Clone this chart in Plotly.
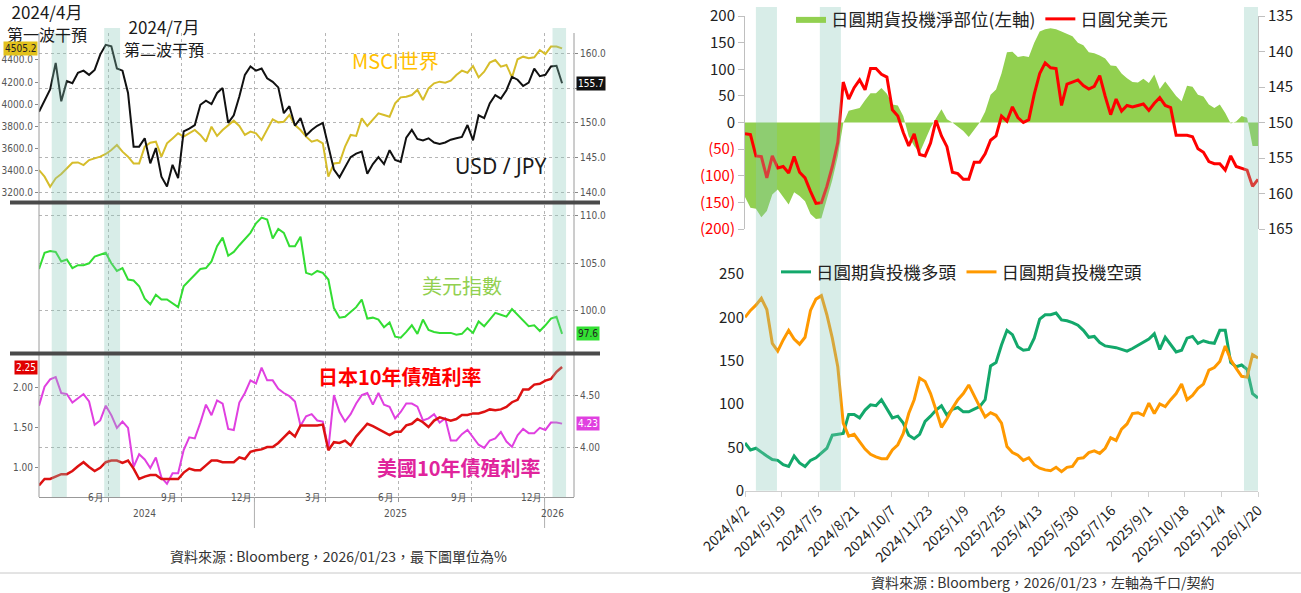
import pandas as pd
import plotly.graph_objects as go

W, H = 1301, 593


def px(x):
    return x / W


def py(y):
    return 1 - y / H


NARROW = "Liberation Sans Narrow, DejaVu Sans Condensed, Arial Narrow, sans-serif"
CJK = "Noto Sans CJK TC, Noto Sans CJK SC, sans-serif"

# ---- left panel (Bloomberg, weekly Fridays) ----
left_dates = pd.date_range("2024-04-05", periods=95, freq="7D")

msci_world = [3405, 3345, 3254, 3330, 3369, 3420, 3471, 3474, 3450, 3495,
              3511, 3526, 3550, 3586, 3631, 3571, 3526, 3465, 3465, 3616,
              3652, 3661, 3526, 3646, 3691, 3737, 3707, 3737, 3767, 3722,
              3661, 3797, 3713, 3767, 3812, 3851, 3803, 3722, 3752, 3737,
              3676, 3767, 3863, 3836, 3842, 3903, 3812, 3767, 3707, 3661,
              3676, 3646, 3345, 3465, 3471, 3616, 3722, 3713, 3872, 3803,
              3863, 3918, 3903, 3887, 4008, 4062, 4068, 4083, 4129, 4038,
              4144, 4189, 4204, 4195, 4213, 4264, 4304, 4285, 4346, 4243,
              4294, 4376, 4400, 4340, 4355, 4243, 4406, 4430, 4415, 4424,
              4490, 4454, 4521, 4521, 4505.2]

usd_jpy = [151.6, 153.3, 154.8, 158.6, 153.1, 156.0, 155.7, 157.2, 157.5, 156.9,
           157.6, 159.8, 161.2, 161.0, 157.8, 157.5, 154.3, 146.6, 146.6, 147.8,
           144.2, 146.4, 142.3, 140.9, 144.0, 142.1, 148.8, 149.2, 149.7, 152.6,
           153.2, 152.7, 154.3, 155.0, 150.0, 151.1, 153.8, 156.9, 158.1, 157.5,
           157.8, 156.4, 155.9, 155.1, 151.4, 152.4, 149.6, 150.7, 148.2, 149.0,
           149.6, 150.0, 146.6, 143.3, 142.2, 143.7, 145.1, 145.6, 145.9, 142.7,
           144.1, 145.1, 144.1, 146.1, 144.7, 144.4, 147.9, 149.0, 147.7, 147.5,
           147.8, 147.2, 147.0, 147.2, 147.6, 147.8, 148.0, 149.7, 147.5, 151.1,
           150.7, 152.8, 154.0, 153.5, 154.7, 156.6, 156.2, 155.3, 155.8, 157.8,
           156.7, 156.9, 158.1, 158.2, 155.7]

dollar_index = [104.4, 106.1, 106.3, 106.2, 105.2, 105.4, 104.5, 104.8, 104.8, 105.0,
                105.7, 105.9, 106.1, 105.0, 104.2, 104.5, 103.3, 103.2, 102.6, 101.3,
                100.7, 101.7, 101.2, 101.2, 100.8, 100.4, 102.6, 103.2, 103.8, 104.4,
                104.5, 105.2, 106.8, 107.7, 105.8, 106.2, 106.9, 107.6, 108.2, 109.2,
                109.8, 109.6, 107.6, 108.6, 108.2, 106.8, 106.8, 107.8, 104.0, 103.8,
                104.2, 104.0, 103.3, 100.3, 99.3, 99.4, 99.9, 100.4, 101.2, 99.2,
                99.3, 99.1, 98.3, 98.8, 97.3, 97.2, 97.8, 98.5, 97.6, 99.1,
                98.0, 97.8, 97.7, 97.7, 97.7, 97.5, 97.6, 98.2, 97.7, 98.9,
                98.4, 99.1, 99.8, 99.6, 99.4, 100.2, 99.6, 99.0, 98.4, 98.5,
                97.9, 98.5, 99.2, 99.4, 97.6]

jgb_10y = [0.77, 0.85, 0.85, 0.88, 0.91, 0.91, 0.95, 1.01, 1.06, 1.00,
           0.95, 0.99, 1.06, 1.08, 1.08, 1.05, 1.08, 0.98, 0.85, 0.88,
           0.90, 0.90, 0.85, 0.85, 0.85, 0.85, 0.93, 0.98, 0.96, 0.96,
           1.02, 1.08, 1.08, 1.06, 1.06, 1.06, 1.12, 1.10, 1.19, 1.21,
           1.22, 1.25, 1.25, 1.30, 1.37, 1.44, 1.38, 1.52, 1.52, 1.52,
           1.52, 1.53, 1.21, 1.31, 1.30, 1.33, 1.27, 1.38, 1.46, 1.54,
           1.51, 1.47, 1.44, 1.40, 1.44, 1.44, 1.52, 1.54, 1.60, 1.56,
           1.50, 1.58, 1.62, 1.60, 1.58, 1.60, 1.65, 1.65, 1.67, 1.67,
           1.69, 1.72, 1.71, 1.72, 1.75, 1.81, 1.84, 1.97, 1.97, 2.03,
           2.04, 2.08, 2.10, 2.19, 2.25]

ust_10y = [4.40, 4.58, 4.65, 4.67, 4.52, 4.51, 4.43, 4.47, 4.51, 4.44,
           4.22, 4.26, 4.40, 4.31, 4.19, 4.25, 4.19, 3.82, 3.94, 3.89,
           3.81, 3.91, 3.72, 3.66, 3.76, 3.76, 3.98, 4.10, 4.09, 4.24,
           4.41, 4.31, 4.45, 4.42, 4.18, 4.17, 4.43, 4.52, 4.64, 4.61,
           4.76, 4.64, 4.64, 4.56, 4.52, 4.49, 4.44, 4.21, 4.30, 4.32,
           4.26, 4.25, 3.99, 4.50, 4.34, 4.25, 4.32, 4.42, 4.50, 4.52,
           4.41, 4.52, 4.41, 4.39, 4.28, 4.34, 4.42, 4.42, 4.39, 4.26,
           4.28, 4.32, 4.24, 4.28, 4.07, 4.07, 4.13, 4.17, 4.10, 4.03,
           4.00, 4.07, 4.09, 4.15, 4.06, 4.01, 4.12, 4.18, 4.14, 4.14,
           4.19, 4.17, 4.24, 4.24, 4.23]

quarter_lines = ["2024-07-01", "2024-10-01", "2025-01-01", "2025-04-01",
                 "2025-07-01", "2025-10-01", "2026-01-01"]
month_labels = ["6月", "9月", "12月", "3月", "6月", "9月", "12月"]
month_label_dates = ["2024-06-16", "2024-09-15", "2024-12-16", "2025-03-16",
                     "2025-06-16", "2025-09-15", "2025-12-16"]
year_labels = ["2024", "2025", "2026"]
year_label_dates = ["2024-08-16", "2025-06-27", "2026-01-11"]
year_breaks = ["2025-01-01", "2026-01-01"]
usdjpy_ticks = [140, 145, 150, 155, 160]
usdjpy_tick_text = ["140.0", "145.0", "150.0", "", "160.0"]  # 155 hidden by last-value tag

# ---- right panel (CFTC yen futures, weekly Tuesdays) ----
right_dates = pd.date_range("2024-04-02", periods=95, freq="7D")

jpy_net = [-140, -160, -162, -178, -166, -135, -126, -141, -154, -131,
           -138, -148, -172, -181, -180, -144, -108, -64, -2, 22,
           24, 27, 42, 55, 55, 65, 54, 34, 32, 12,
           -26, -44, -57, -35, -10, 8, 25, 6, 0, -8,
           -16, -27, -13, 0, 20, 52, 62, 92, 132, 133,
           123, 125, 123, 150, 171, 175, 177, 175, 171, 166,
           162, 150, 145, 132, 130, 126, 120, 107, 106, 92,
           83, 76, 75, 82, 74, 90, 63, 77, 64, 50,
           40, 69, 67, 52, 49, 34, 27, 34, 18, -2,
           2, 12, 9, -44, -44]

jpy_usd = [151.6, 151.7, 154.7, 154.8, 157.8, 154.7, 156.4, 156.2, 157.1, 154.8,
           157.0, 157.8, 159.7, 161.4, 161.3, 159.0, 156.2, 152.8, 144.3, 146.7,
           145.1, 144.0, 145.4, 142.4, 142.4, 143.2, 143.6, 148.2, 149.1, 151.4,
           153.3, 151.6, 154.5, 154.7, 152.9, 149.7, 151.9, 153.4, 157.0, 157.2,
           158.0, 158.0, 155.6, 155.6, 154.4, 152.5, 151.9, 149.1, 149.8, 147.8,
           149.3, 150.0, 149.6, 146.0, 143.1, 141.6, 142.3, 142.4, 147.6, 144.6,
           144.3, 144.0, 144.8, 145.3, 144.9, 143.4, 146.3, 148.9, 146.7, 148.4,
           147.6, 147.8, 147.6, 147.4, 148.3, 147.3, 146.5, 147.6, 147.9, 151.8,
           151.8, 151.8, 152.0, 153.7, 154.2, 155.5, 155.8, 155.8, 156.7, 154.7,
           156.2, 156.4, 156.7, 159.0, 158.0]

jpy_long = [55, 47, 49, 44, 40, 36, 35, 30, 28, 40,
            32, 28, 35, 38, 43, 49, 64, 65, 66, 88,
            88, 84, 93, 99, 98, 105, 95, 84, 86, 78,
            64, 60, 65, 80, 86, 93, 98, 87, 94, 96,
            91, 91, 94, 97, 105, 144, 148, 168, 185, 180,
            166, 162, 163, 176, 198, 203, 203, 205, 197, 196,
            194, 191, 185, 177, 178, 171, 167, 166, 165, 163,
            161, 164, 168, 171, 175, 181, 163, 177, 169, 160,
            162, 176, 178, 170, 173, 171, 170, 185, 185, 148,
            143, 145, 140, 112, 107]

jpy_short = [200, 208, 214, 222, 209, 170, 161, 174, 185, 175,
             169, 177, 208, 221, 225, 203, 176, 143, 78, 63,
             65, 57, 48, 42, 39, 37, 37, 47, 53, 66,
             89, 105, 130, 126, 112, 93, 73, 83, 95, 105,
             112, 122, 109, 97, 85, 90, 87, 78, 51, 44,
             41, 35, 38, 30, 26, 24, 23, 27, 22, 27,
             28, 37, 38, 44, 46, 43, 49, 61, 58, 71,
             77, 89, 90, 87, 101, 89, 100, 97, 105, 112,
             123, 105, 110, 118, 123, 139, 142, 149, 167, 151,
             141, 132, 131, 157, 153]

right_tick_dates = ["2024-04-02", "2024-05-19", "2024-07-05", "2024-08-21", "2024-10-07",
                    "2024-11-23", "2025-01-09", "2025-02-25", "2025-04-13", "2025-05-30",
                    "2025-07-16", "2025-09-01", "2025-10-18", "2025-12-04", "2026-01-20"]
right_tick_text = ["2024/4/2", "2024/5/19", "2024/7/5", "2024/8/21", "2024/10/7",
                   "2024/11/23", "2025/1/9", "2025/2/25", "2025/4/13", "2025/5/30",
                   "2025/7/16", "2025/9/1", "2025/10/18", "2025/12/4", "2026/1/20"]
net_ticks = [-200, -150, -100, -50, 0, 50, 100, 150, 200]
net_tick_text = ["(200)", "(150)", "(100)", "(50)", "0", "50", "100", "150", "200"]

# intervention periods (shaded)
left_bands = [("2024-04-21", "2024-05-10", 33), ("2024-06-26", "2024-07-16", 28),
              ("2026-01-11", "2026-01-28", 28)]
right_bands = [("2024-04-16", "2024-05-13"), ("2024-07-07", "2024-08-03"),
               ("2026-01-02", "2026-01-20")]

fig = go.Figure()

# left panel traces
fig.add_trace(go.Scatter(x=left_dates, y=msci_world, xaxis="x", yaxis="y",
                         line=dict(color="#d6bd2a", width=2), showlegend=False))
fig.add_trace(go.Scatter(x=left_dates, y=usd_jpy, xaxis="x", yaxis="y2",
                         line=dict(color="#111111", width=2), showlegend=False))
fig.add_trace(go.Scatter(x=left_dates, y=dollar_index, xaxis="x2", yaxis="y3",
                         line=dict(color="#33dd33", width=2), showlegend=False))
fig.add_trace(go.Scatter(x=left_dates, y=ust_10y, xaxis="x3", yaxis="y4",
                         line=dict(color="#e040e0", width=2), showlegend=False))
fig.add_trace(go.Scatter(x=left_dates, y=jgb_10y, xaxis="x3", yaxis="y5",
                         line=dict(color="#dd1111", width=2.5), showlegend=False))

# right panel traces
fig.add_trace(go.Scatter(x=right_dates, y=jpy_net, xaxis="x4", yaxis="y6",
                         mode="lines", fill="tozeroy", fillcolor="#92D050",
                         line=dict(width=0, color="#92D050"),
                         name="日圓期貨投機淨部位(左軸)", legend="legend"))
fig.add_trace(go.Scatter(x=right_dates, y=jpy_usd, xaxis="x4", yaxis="y7",
                         mode="lines", line=dict(color="#ff0000", width=3),
                         name="日圓兌美元", legend="legend"))
fig.add_trace(go.Scatter(x=right_dates, y=jpy_long, xaxis="x5", yaxis="y8",
                         mode="lines", line=dict(color="#13a86b", width=3),
                         name="日圓期貨投機多頭", legend="legend2"))
fig.add_trace(go.Scatter(x=right_dates, y=jpy_short, xaxis="x5", yaxis="y8",
                         mode="lines", line=dict(color="#ff9900", width=3),
                         name="日圓期貨投機空頭", legend="legend2"))

left_dom = [px(39), px(574)]
left_range = ["2024-04-05", "2026-02-07"]
grid_x = dict(range=left_range, domain=left_dom, tickvals=quarter_lines,
              showticklabels=False, showgrid=True, griddash="dot",
              gridcolor="#b5b5b5", gridwidth=1, zeroline=False, automargin=False)
small = dict(family=NARROW, size=10, color="#555555")
yl = dict(showgrid=False, zeroline=False, ticks="outside", ticklen=3,
          tickcolor="#888888", tickfont=small, showline=False, automargin=False)
yr_grid = dict(showgrid=True, griddash="dot", gridcolor="#b5b5b5")

red_tick_text = [f"<span style='color:#ff0000'>{t}</span>" if v < 0 else t
                 for v, t in zip(net_ticks, net_tick_text)]
big = dict(family=CJK, size=15, color="#222222")
leg_font = dict(family=CJK, size=17.5, color="#222222")

fig.update_layout(
    template="none",
    width=W, height=H, margin=dict(l=0, r=0, t=0, b=0, pad=0, autoexpand=False),
    paper_bgcolor="white", plot_bgcolor="white",
    xaxis=dict(anchor="y", **grid_x),
    xaxis2=dict(anchor="y3", matches="x", **grid_x),
    xaxis3=dict(anchor="y4", matches="x", ticks="outside", ticklen=4,
                tickcolor="#999999", showline=True, linecolor="#999999", **grid_x),
    yaxis=dict(domain=[py(200), py(33)], anchor="x", range=[3134, 4644],
               tickvals=[3200, 3400, 3600, 3800, 4000, 4200, 4400],
               tickformat=".1f", **yl),
    yaxis2=dict(overlaying="y", side="right", anchor="x", range=[138.95, 162.9],
                tickvals=usdjpy_ticks, ticktext=usdjpy_tick_text,
                **{**yl, **yr_grid}),
    yaxis3=dict(domain=[py(351), py(205)], anchor="x2", side="right",
                range=[95.8, 111.12], tickvals=[100, 105, 110], tickformat=".1f",
                **{**yl, **yr_grid}),
    yaxis4=dict(domain=[py(497), py(355)], anchor="x3", side="right",
                range=[3.535, 4.88], tickvals=[4.0, 4.5], tickformat=".2f",
                **{**yl, **yr_grid}),
    yaxis5=dict(overlaying="y4", side="left", anchor="x3", range=[0.625, 2.40],
                tickvals=[1.0, 1.5, 2.0], tickformat=".2f", **yl),
    xaxis4=dict(anchor="y6", domain=[px(745), px(1258)],
                range=["2024-04-02", "2026-01-20"], visible=False, automargin=False),
    xaxis5=dict(anchor="y8", domain=[px(745), px(1258)],
                range=["2024-04-02", "2026-01-20"], tickvals=right_tick_dates,
                ticktext=right_tick_text, tickangle=-45, ticks="outside",
                ticklen=5, tickcolor="#d0d0d0", showline=True, linecolor="#d0d0d0",
                showgrid=False, zeroline=False, automargin=False,
                tickfont=dict(family=CJK, size=14, color="#222222")),
    yaxis6=dict(domain=[py(229), py(16)], anchor="x4", range=[-200, 200],
                tickvals=net_ticks, ticktext=red_tick_text, ticks="outside",
                ticklen=6, tickcolor="#bfbfbf", showline=True, linecolor="#bfbfbf",
                showgrid=False, zeroline=False, tickfont=big, automargin=False),
    yaxis7=dict(overlaying="y6", side="right", anchor="x4", range=[165, 135],
                tickvals=[135, 140, 145, 150, 155, 160, 165], ticks="outside",
                ticklen=6, tickcolor="#bfbfbf", showline=True, linecolor="#bfbfbf",
                showgrid=False, zeroline=False, tickfont=big, automargin=False),
    yaxis8=dict(domain=[py(490.7), py(274)], anchor="x5", range=[0, 250],
                tickvals=[0, 50, 100, 150, 200, 250], showline=False, ticks="",
                showgrid=False, zeroline=False, tickfont=big, automargin=False),
    legend=dict(orientation="h", x=px(791), y=py(19), xanchor="left",
                yanchor="middle", font=leg_font, bgcolor="rgba(0,0,0,0)", itemwidth=30),
    legend2=dict(orientation="h", x=px(776), y=py(272), xanchor="left",
                 yanchor="middle", font=leg_font, bgcolor="rgba(0,0,0,0)", itemwidth=30),
)

shapes = []
band_fill = "rgba(135,198,182,0.32)"
for x0, x1, top in left_bands:
    shapes.append(dict(type="rect", xref="x", yref="paper", x0=x0, x1=x1,
                       y0=py(497), y1=py(top), fillcolor=band_fill,
                       line=dict(width=0), layer="above"))
for x0, x1 in right_bands:
    shapes.append(dict(type="rect", xref="x4", yref="paper", x0=x0, x1=x1,
                       y0=py(490.7), y1=py(7), fillcolor=band_fill,
                       line=dict(width=0), layer="above"))
# Bloomberg frame: side axis lines and panel separators
for xv in (39, 574):
    shapes.append(dict(type="line", xref="paper", yref="paper", x0=px(xv), x1=px(xv),
                       y0=py(497), y1=py(33), line=dict(color="#9a9a9a", width=1)))
for yv in (202.5, 353.5):
    shapes.append(dict(type="line", xref="paper", yref="paper", x0=px(10), x1=px(600),
                       y0=py(yv), y1=py(yv), line=dict(color="#4a4a4a", width=4)))
for d in year_breaks:
    shapes.append(dict(type="line", xref="x3", yref="paper", x0=d, x1=d,
                       y0=py(497), y1=py(528), line=dict(color="#b0b0b0", width=1)))
shapes.append(dict(type="line", xref="paper", yref="paper", x0=0, x1=1,
                   y0=py(573), y1=py(573), line=dict(color="#c8c8c8", width=1)))
fig.update_layout(shapes=shapes)

ann = []


def text(t, x, y, size, color="#1a1a1a", family=CJK, **kw):
    ann.append(dict(text=t, x=px(x), y=py(y), xref="paper", yref="paper",
                    showarrow=False, font=dict(family=family, size=size, color=color),
                    xanchor="center", yanchor="middle", borderpad=0, **kw))


# intervention notes: date line + label line in one text block
text("2024/4月<br><span style='font-size:16px'>第一波干預</span>", 47, 23, 17)
text("2024/7月<br><span style='font-size:16px'>第二波干預</span>", 164, 37, 17)
text("MSCI世界", 395, 60, 20, "#FFC000")
text("USD / JPY", 500, 166, 21, "#1a1a1a", family="Noto Sans, sans-serif")
text("美元指數", 462, 285, 20, "#92D050")
text("<b>日本10年債殖利率</b>", 400, 376, 20, "#ff0000")
text("<b>美國10年債殖利率</b>", 459, 467, 20, "#E0249C")
text("資料來源 : Bloomberg，2026/01/23，最下圖單位為%", 338, 556, 14, "#333333")
text("資料來源 : Bloomberg，2026/01/23，左軸為千口/契約", 1042, 582, 14, "#333333")

# last-value tags on the Bloomberg axes
for val, yref, side, bg, fg in [(msci_world[-1], "y", "left", "#e2c11c", "#222222"),
                                (usd_jpy[-1], "y2", "right", "#111111", "#ffffff"),
                                (dollar_index[-1], "y3", "right", "#33e033", "#222222"),
                                (jgb_10y[-1], "y5", "left", "#e00000", "#ffffff"),
                                (ust_10y[-1], "y4", "right", "#e040e0", "#ffffff")]:
    label = f"{val:.2f}" if yref in ("y4", "y5") else f"{val:.1f}"
    ann.append(dict(text=label, xref="paper", yref=yref, y=val,
                    x=px(38) if side == "left" else px(576),
                    xanchor="right" if side == "left" else "left", yanchor="middle",
                    showarrow=False, bgcolor=bg, borderpad=1,
                    font=dict(family=NARROW, size=10, color=fg)))

for lab, d in zip(month_labels, month_label_dates):
    ann.append(dict(text=lab, x=d, xref="x3", y=py(505), yref="paper",
                    showarrow=False, font=dict(family=NARROW, size=10, color="#555555")))
for lab, d in zip(year_labels, year_label_dates):
    ann.append(dict(text=lab, x=d, xref="x3", y=py(521), yref="paper",
                    showarrow=False, font=dict(family=NARROW, size=10, color="#555555")))

fig.update_layout(annotations=ann)

# the page body has a default 8px margin; drop it so the figure starts at the corner
fig.write_html("out.html", config={"displayModeBar": False},
               post_script="document.body.style.margin='0';")
